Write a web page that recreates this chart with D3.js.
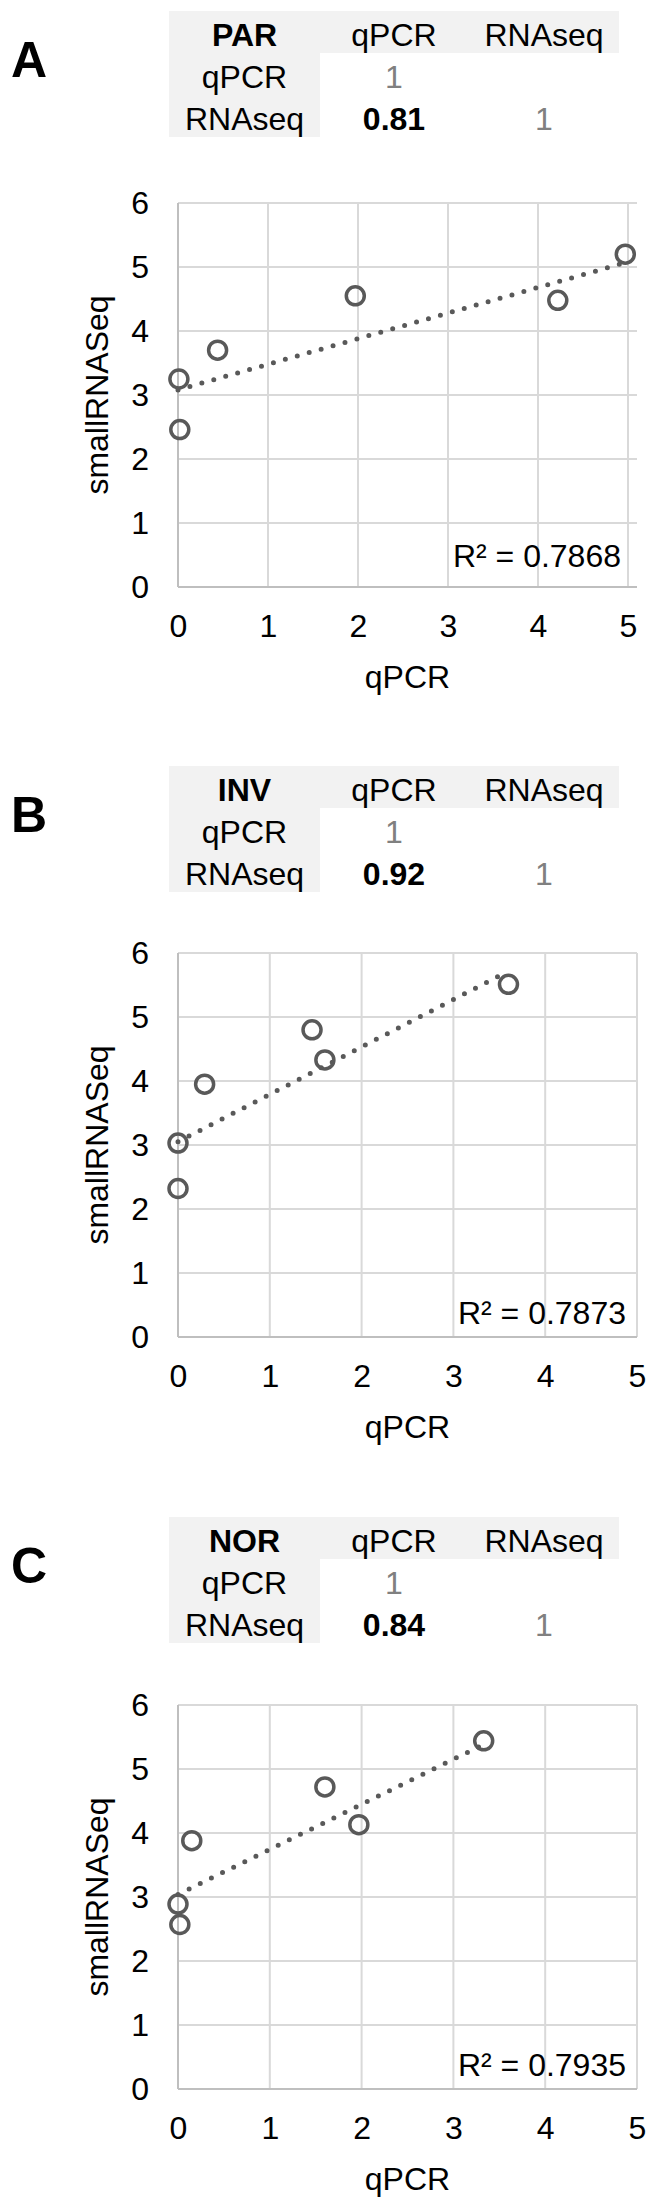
<!DOCTYPE html>
<html>
<head>
<meta charset="utf-8">
<script src="https://cdn.jsdelivr.net/npm/d3@7"></script>
<style>
  body { margin: 0; background: #fff; }
  svg text { font-family: "Liberation Sans", Arial, Helvetica, sans-serif; }
</style>
</head>
<body>
<div id="chart"></div>
<script>
// panel names and correlation tables
const panelLetters = ["A", "B", "C"];
const groups = ["PAR", "INV", "NOR"];
const tableHeads = ["qPCR", "RNAseq"];
const corrValues = [0.81, 0.92, 0.84];
const r2Labels = ["R\u00b2 = 0.7868", "R\u00b2 = 0.7873", "R\u00b2 = 0.7935"];

// scatter values (qPCR vs smallRNASeq)
const qpcrA = [0.01, 0.02, 0.44, 1.97, 4.22, 4.97];
const seqA  = [3.25, 2.46, 3.70, 4.55, 4.48, 5.20];
const qpcrB = [0.00, 0.00, 0.29, 1.46, 1.60, 3.60];
const seqB  = [3.03, 2.32, 3.95, 4.80, 4.33, 5.51];
const qpcrC = [0.00, 0.02, 0.15, 1.60, 1.97, 3.33];
const seqC  = [2.89, 2.57, 3.88, 4.72, 4.13, 5.44];

// linear trendline end points [qPCR, smallRNASeq]
const trendA = [[0, 3.08], [5.0, 5.08]];
const trendB = [[0, 3.05], [3.55, 5.68]];
const trendC = [[0, 3.04], [3.31, 5.37]];

const xTicks = [0, 1, 2, 3, 4, 5];
const yTicks = [0, 1, 2, 3, 4, 5, 6];
const xMaxes = [5.1, 5, 5];

const panels = [
  {x: qpcrA, y: seqA, trend: trendA},
  {x: qpcrB, y: seqB, trend: trendB},
  {x: qpcrC, y: seqC, trend: trendC}
];

// layout
const W = 660, H = 2205;
const tableTop = [11, 766, 1517];
const plotTop = [203, 953, 1705];
const plotH = 384;
const plotL = 178, plotR = 637;
const rowH = 42;
const tabL = 169, tabR = 619, col1R = 320;
const colX = [244.5, 394, 544];
const r2Off = [[16, 20], [11, 13], [11, 13]];
const fs = 32;
const markColor = "#595959";

const svg = d3.select("#chart")
  .append("svg")
  .attr("width", W)
  .attr("height", H);

panels.forEach((p, i) => {
  const g = svg.append("g");
  const t0 = tableTop[i];

  // panel letter
  g.append("text")
    .attr("x", 11)
    .attr("y", t0 + 66)
    .attr("font-size", 50)
    .attr("font-weight", "bold")
    .text(panelLetters[i]);

  // correlation table
  g.append("rect")
    .attr("x", tabL).attr("y", t0)
    .attr("width", tabR - tabL).attr("height", rowH)
    .attr("fill", "#f2f2f2");
  g.append("rect")
    .attr("x", tabL).attr("y", t0)
    .attr("width", col1R - tabL).attr("height", rowH * 3)
    .attr("fill", "#f2f2f2");

  const cells = [
    {r: 0, c: 0, t: groups[i], bold: true},
    {r: 0, c: 1, t: tableHeads[0]},
    {r: 0, c: 2, t: tableHeads[1]},
    {r: 1, c: 0, t: tableHeads[0]},
    {r: 1, c: 1, t: "1", grey: true},
    {r: 2, c: 0, t: tableHeads[1]},
    {r: 2, c: 1, t: d3.format(".2f")(corrValues[i]), bold: true},
    {r: 2, c: 2, t: "1", grey: true}
  ];
  g.selectAll("text.cell")
    .data(cells)
    .join("text")
    .attr("class", "cell")
    .attr("x", d => colX[d.c])
    .attr("y", d => t0 + (d.r + 1) * rowH - 7)
    .attr("text-anchor", "middle")
    .attr("font-size", fs)
    .attr("font-weight", d => d.bold ? "bold" : "normal")
    .attr("fill", d => d.grey ? "#808080" : "#000")
    .text(d => d.t);

  // scatter plot
  const top = plotTop[i], bottom = top + plotH;
  const x = d3.scaleLinear().domain([0, xMaxes[i]]).range([plotL, plotR]);
  const y = d3.scaleLinear().domain([0, 6]).range([bottom, top]);

  // gridlines
  g.selectAll("line.hgrid")
    .data(yTicks.slice(1))
    .join("line")
    .attr("x1", x(0)).attr("x2", plotR)
    .attr("y1", d => y(d)).attr("y2", d => y(d))
    .attr("stroke", "#d9d9d9").attr("stroke-width", 2);
  g.selectAll("line.vgrid")
    .data(xTicks.slice(1))
    .join("line")
    .attr("x1", d => x(d)).attr("x2", d => x(d))
    .attr("y1", y(0)).attr("y2", y(6))
    .attr("stroke", "#d9d9d9").attr("stroke-width", 2);
  // axis lines
  g.append("line")
    .attr("x1", x(0)).attr("x2", x(0)).attr("y1", y(0)).attr("y2", y(6))
    .attr("stroke", "#bfbfbf").attr("stroke-width", 2);
  g.append("line")
    .attr("x1", x(0)).attr("x2", plotR).attr("y1", y(0)).attr("y2", y(0))
    .attr("stroke", "#bfbfbf").attr("stroke-width", 2);

  // tick labels
  const ya = g.append("g")
    .attr("transform", `translate(${plotL},0)`)
    .call(d3.axisLeft(y).tickValues(yTicks).tickFormat(d3.format("d")).tickSize(0).tickPadding(29));
  ya.select(".domain").remove();
  ya.attr("font-size", fs).attr("font-family", null).style("color", "#000");

  const xa = g.append("g")
    .attr("transform", `translate(0,${bottom})`)
    .call(d3.axisBottom(x).tickValues(xTicks).tickFormat(d3.format("d")).tickSize(0).tickPadding(27));
  xa.select(".domain").remove();
  xa.attr("font-size", fs).attr("font-family", null).style("color", "#000");

  // axis titles
  g.append("text")
    .attr("x", (plotL + plotR) / 2)
    .attr("y", bottom + 101)
    .attr("text-anchor", "middle")
    .attr("font-size", fs)
    .text("qPCR");
  g.append("text")
    .attr("transform", `translate(108,${(top + bottom) / 2}) rotate(-90)`)
    .attr("text-anchor", "middle")
    .attr("font-size", fs)
    .text("smallRNASeq");

  // points
  const pts = p.x.map((v, k) => [v, p.y[k]]);
  g.selectAll("circle")
    .data(pts)
    .join("circle")
    .attr("cx", d => x(d[0]))
    .attr("cy", d => y(d[1]))
    .attr("r", 9)
    .attr("fill", "none")
    .attr("stroke", markColor)
    .attr("stroke-width", 3.5);

  // dotted trendline
  g.append("path")
    .datum(p.trend)
    .attr("d", d3.line().x(d => x(d[0])).y(d => y(d[1])))
    .attr("fill", "none")
    .attr("stroke", markColor)
    .attr("stroke-width", 5)
    .attr("stroke-linecap", "round")
    .attr("stroke-dasharray", "0 12.4");

  // R squared
  g.append("text")
    .attr("x", plotR - r2Off[i][0])
    .attr("y", bottom - r2Off[i][1])
    .attr("text-anchor", "end")
    .attr("font-size", fs)
    .text(r2Labels[i]);
});
</script>
</body>
</html>
